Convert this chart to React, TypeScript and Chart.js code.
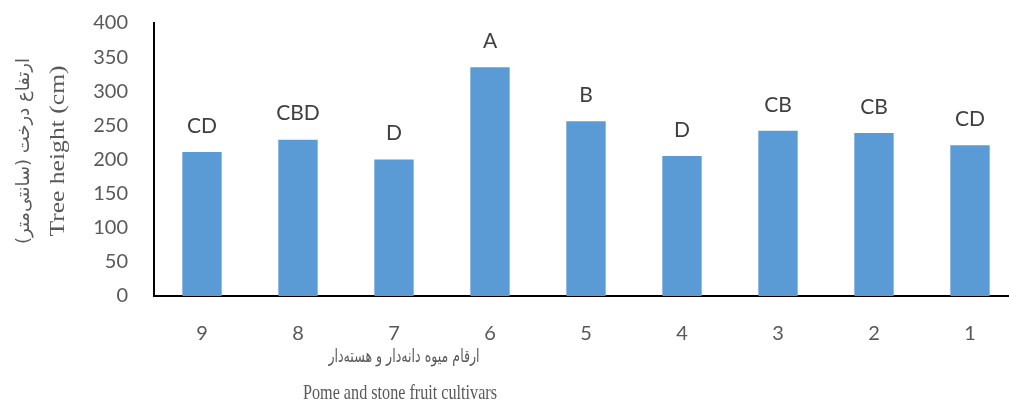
import React, { useEffect, useRef } from "react";
import { Chart, registerables } from "chart.js";

Chart.register(...registerables);

const categories = ["9", "8", "7", "6", "5", "4", "3", "2", "1"];
const heights = [211, 229, 200, 335, 256, 205, 242, 239, 221];
const groupLetters = ["CD", "CBD", "D", "A", "B", "D", "CB", "CB", "CD"];
const yTicks = [0, 50, 100, 150, 200, 250, 300, 350, 400];

const yTitleEn = "Tree height (cm)";
const yTitleFa = "ارتفاع درخت (سانتی‌متر)";
const xTitleFa = "ارقام  میوه دانه‌دار و هسته‌دار";
const xTitleEn = "Pome and stone fruit cultivars";

const letterPlugin = {
  id: "letters",
  afterDatasetsDraw(chart: any) {
    const meta = chart.getDatasetMeta(0);
    const ctx = chart.ctx;
    ctx.save();
    ctx.font = "21px Lato";
    ctx.fillStyle = "#404040";
    ctx.textAlign = "center";
    ctx.textBaseline = "middle";
    meta.data.forEach((el: any, i: number) => {
      ctx.fillText(groupLetters[i], el.x, el.y - 26);
    });
    ctx.restore();
  },
};

export default function App() {
  const ref = useRef<HTMLCanvasElement>(null);
  useEffect(() => {
    const chart = new Chart(ref.current!, {
      type: "bar",
      data: {
        labels: categories,
        datasets: [
          {
            data: heights,
            backgroundColor: "#5B9BD5",
            borderColor: "#5B9BD5",
            borderWidth: 0,
            categoryPercentage: 1,
            barPercentage: 0.41,
          },
        ],
      },
      options: {
        animation: false,
        responsive: false,
        layout: { padding: { top: 23, left: 0, right: 0, bottom: 0 } },
        plugins: { legend: { display: false }, tooltip: { enabled: false } },
        scales: {
          x: {
            grid: { display: false },
            border: { display: true, color: "#000", width: 2 },
            ticks: { color: "#595959", font: { family: "Lato", size: 20 }, padding: 18 },
            afterFit: (s: any) => {
              s.height = 107;
            },
          },
          y: {
            min: 0,
            max: 400,
            afterBuildTicks: (s: any) => {
              s.ticks = yTicks.map((v) => ({ value: v }));
            },
            grid: { display: false, drawTicks: false },
            border: { display: true, color: "#000", width: 2 },
            ticks: { color: "#595959", font: { family: "Lato", size: 20 }, padding: 26 },
            afterFit: (s: any) => {
              s.width = 154;
              s.paddingTop = 0;
              s.paddingBottom = 0;
            },
          },
        },
      },
      plugins: [letterPlugin],
    });
    return () => chart.destroy();
  }, []);

  const en: React.CSSProperties = {
    position: "absolute",
    fontFamily: "'Liberation Serif', serif",
    fontSize: 21,
    color: "#595959",
    whiteSpace: "nowrap",
    lineHeight: "21px",
  };
  const fa: React.CSSProperties = {
    position: "absolute",
    fontFamily: "'DejaVu Sans', sans-serif",
    fontSize: 18,
    color: "#595959",
    whiteSpace: "nowrap",
    lineHeight: "22px",
    direction: "rtl",
  };

  return (
    <div
      style={{
        position: "fixed",
        left: 0,
        top: 0,
        width: 1009,
        height: 403,
        overflow: "hidden",
        background: "#fff",
      }}
    >
      <canvas ref={ref} width={1018} height={403} style={{ position: "absolute", left: 0, top: 0 }} />
      <div
        style={{
          ...en,
          fontSize: 21,
          left: 57,
          top: 151,
          transform: "translate(-50%, -50%) rotate(-90deg) scaleX(1.22)",
        }}
      >
        {yTitleEn}
      </div>
      <div
        style={{
          ...fa,
          left: 23,
          top: 151,
          transform: "translate(-50%, -50%) rotate(-90deg)",
        }}
      >
        {yTitleFa}
      </div>
      <div
        style={{
          ...fa,
          left: 404,
          top: 356,
          transform: "translate(-50%, -50%) scaleX(0.7)",
        }}
      >
        {xTitleFa}
      </div>
      <div
        style={{
          ...en,
          left: 400,
          top: 392,
          transform: "translate(-50%, -50%) scaleX(0.77)",
        }}
      >
        {xTitleEn}
      </div>
    </div>
  );
}
